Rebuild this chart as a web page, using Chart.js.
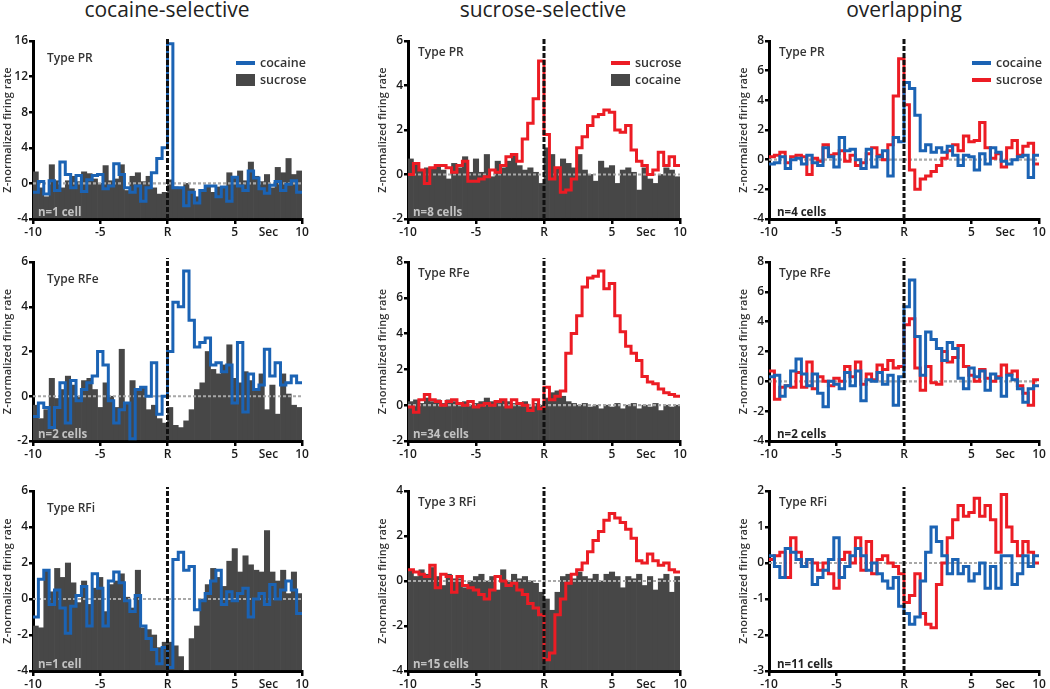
<!DOCTYPE html>
<html>
<head>
<meta charset="utf-8">
<script src="https://cdn.jsdelivr.net/npm/chart.js@4/dist/chart.umd.min.js"></script>
<style>
body{margin:0;background:#fff;width:1050px;height:689px;position:relative;overflow:hidden;font-family:"Open Sans",sans-serif}
.hd{position:absolute;top:-4px;font-size:21px;line-height:26px;color:#222;transform:translateX(-50%);white-space:nowrap}
canvas{position:absolute}
</style>
</head>
<body>
<div class="hd" style="left:167px">cocaine-selective</div>
<div class="hd" style="left:543px">sucrose-selective</div>
<div class="hd" style="left:904px">overlapping</div>

<script>
// 0.4 s bins from -10 to 10 s around the response (R)
const binStart = -10, binWidth = 0.4;
const xTicks = [-10, -5, 0, 5, 7.5, 10];
const xTickLabels = ['-10', '-5', 'R', '5', 'Sec', '10'];

// row 1 : Type PR
const cocPR_cocaine = [-1.0,0.2,-1.2,0.3,-0.8,2.4,1.0,-0.5,0.9,-0.9,0.4,0.9,1.0,-0.6,-0.3,2.2,1.0,-0.5,-1.0,-0.3,-2.0,-0.5,1.2,2.8,4.0,
  15.7,-0.5,-0.5,-2.5,-1.0,-2.2,-0.8,-0.3,-0.3,-1.5,-0.4,-2.0,0.7,-0.3,-0.8,1.4,0.6,-0.6,-1.1,-0.2,0.2,-0.8,-0.1,0.3,-1.0];
const cocPR_sucrose = [1.3,-0.5,-1.5,2.1,0.3,-0.5,0.3,0.8,0.2,1.3,1.1,0.5,0.0,2.0,0.3,0.5,2.1,-0.8,0.8,1.2,0.2,0.8,-0.5,-1.2,-1.0,
  0.4,-0.4,-0.5,0.0,-0.6,-1.5,-0.8,-0.3,-1.0,-0.4,-0.5,1.2,0.6,1.4,0.3,2.4,0.8,0.2,1.0,-0.5,1.8,1.2,2.8,1.0,1.4];
const sucPR_sucrose = [0.0,0.5,0.2,-0.4,0.3,0.4,0.4,0.3,0.1,0.4,0.6,-0.3,-0.3,-0.2,-0.1,0.2,0.1,0.4,0.8,0.9,0.6,1.6,2.3,3.4,5.1,
  1.8,-0.2,0.3,-0.8,-0.7,-0.2,1.2,1.7,2.2,2.6,2.7,2.9,2.8,2.0,1.9,2.2,1.1,0.6,0.4,0.0,0.2,1.0,0.4,0.8,0.4];
const sucPR_cocaine = [0.7,0.5,0.2,0.3,0.3,0.4,0.2,-0.2,0.5,0.3,0.8,0.1,0.7,0.1,0.9,-0.1,0.6,0.3,0.6,0.9,0.4,0.2,0.3,0.1,-0.4,
  1.2,0.9,0.3,0.7,0.5,0.3,0.9,0.2,0.0,-0.3,0.6,0.3,0.4,-0.4,0.2,0.3,0.1,-0.7,0.3,-0.2,-0.4,0.0,0.3,0.2,-0.1];
const ovPR_cocaine = [-0.3,-0.2,0.2,-0.6,0.0,0.1,-0.3,0.3,-0.2,-0.4,0.8,0.2,-0.5,1.5,0.6,0.7,0.0,-0.6,0.7,-0.5,0.2,0.6,-1.1,1.5,1.2,
  5.2,4.8,3.0,0.6,1.0,0.5,0.8,0.5,0.9,0.3,-0.4,0.3,0.2,-0.7,0.4,-0.3,0.8,0.5,-0.1,-0.3,0.0,0.2,0.3,-1.2,0.3];
const ovPR_sucrose = [0.2,0.3,0.5,-0.2,0.2,0.3,0.2,-1.0,0.1,-0.1,1.0,0.3,0.4,0.6,-0.1,0.3,-0.4,-0.2,0.4,0.8,0.3,0.0,1.0,4.3,6.8,
  3.7,-0.7,-2.0,-1.3,-1.1,-0.8,-0.4,0.1,0.6,1.0,0.6,1.6,1.2,1.3,2.5,0.8,0.1,0.4,-0.5,0.8,1.3,0.3,0.9,1.1,-0.3];

// row 2 : Type RFe
const cocRFe_cocaine = [-0.9,-0.3,-0.5,-1.4,-0.5,0.6,-1.2,0.7,-0.2,0.3,0.6,0.9,2.0,1.4,-0.2,-1.2,-0.6,-0.3,-1.9,0.3,0.4,0.0,1.5,-0.8,0.0,
  2.0,4.2,4.0,5.6,3.4,2.2,2.4,2.6,1.4,1.5,1.1,1.4,-0.3,2.4,-0.7,1.0,0.3,0.5,2.1,0.9,1.5,0.5,0.6,0.9,0.6];
const cocRFe_sucrose = [-0.4,-1.0,-0.6,0.8,-0.1,0.3,0.9,0.5,0.0,0.7,0.8,0.3,-0.5,0.6,0.0,-0.5,2.1,-0.3,0.7,0.3,0.4,-0.6,-0.4,-1.0,-1.2,
  -0.5,-1.3,-1.4,-1.1,-0.6,0.3,0.6,2.0,1.2,1.0,1.4,2.3,0.8,0.6,1.1,0.7,0.3,1.0,-0.6,0.5,-0.8,1.0,0.1,-0.4,-0.5];
const sucRFe_sucrose = [-0.1,-0.4,0.3,0.6,0.3,0.2,0.0,0.2,0.3,0.1,0.0,0.2,-0.1,0.0,0.1,0.0,0.2,0.3,-0.1,0.3,0.1,0.0,-0.3,0.3,-0.2,
  1.0,0.3,0.5,0.8,2.9,4.0,5.0,6.6,7.1,7.2,7.5,6.5,6.8,5.0,4.1,3.3,2.9,2.5,1.6,1.3,1.2,0.9,0.7,0.6,0.5];
const sucRFe_cocaine = [0.2,0.3,0.1,0.4,0.2,0.3,0.1,0.3,0.2,0.1,0.2,0.0,0.1,0.2,0.4,0.2,0.1,0.3,0.2,0.1,0.0,0.2,-0.1,0.1,0.0,
  0.4,0.7,0.8,0.5,0.2,0.1,0.0,0.1,-0.1,0.0,-0.2,0.0,-0.1,0.1,-0.2,0.0,0.1,-0.2,0.0,-0.1,0.1,-0.3,0.0,-0.1,0.0];
const ovRFe_cocaine = [0.3,0.4,-1.0,-0.3,0.7,1.5,0.5,-0.3,0.5,-0.8,-1.7,0.0,-0.2,-0.5,0.6,-0.3,0.7,-1.3,0.1,0.0,0.6,-0.2,0.4,-1.6,0.3,
  5.0,6.8,3.0,0.4,3.3,2.8,2.2,1.4,2.6,2.2,0.2,-0.5,0.9,0.3,0.7,-0.6,0.5,0.2,-1.0,0.4,0.1,-0.5,-1.4,-0.5,-0.3];
const ovRFe_sucrose = [0.7,-1.2,-0.4,-0.3,-0.4,0.6,-0.4,1.3,-0.5,0.3,0.0,-0.3,0.2,0.0,1.0,0.3,1.3,-0.2,0.5,0.1,1.1,0.8,1.4,0.9,1.0,
  3.8,4.2,0.9,-0.6,1.0,-0.1,-0.2,2.0,1.3,1.6,2.4,1.0,0.4,0.0,0.8,0.2,0.0,0.3,1.1,0.5,0.7,-0.3,-0.8,-1.6,0.1];

// row 3 : Type RFi
const cocRFi_cocaine = [-1.0,1.1,1.6,-0.3,0.5,-0.5,-1.9,-0.4,0.2,0.7,-1.5,1.4,0.6,-1.5,1.0,1.5,0.9,-0.1,-0.7,0.2,-1.5,-2.2,-2.8,-3.6,-2.7,
  -3.8,2.2,2.6,1.6,1.8,-0.6,-0.1,0.3,1.0,1.6,-0.3,0.4,-0.1,0.3,0.6,-1.0,0.0,0.3,-0.3,0.8,0.0,0.5,1.0,0.5,-0.8];
const cocRFi_sucrose = [-1.5,-1.6,1.6,0.4,1.7,1.2,2.0,0.9,-0.2,1.0,-0.3,0.6,1.2,-0.7,0.8,1.0,1.4,0.1,-0.5,1.6,-1.6,-1.7,-2.0,-2.7,-2.4,
  -2.4,-2.6,-3.2,-4.0,-2.2,-1.5,0.0,0.8,1.7,1.2,0.7,2.1,2.8,1.5,2.4,1.9,1.6,1.5,3.8,1.5,1.0,1.6,0.3,1.5,0.3];
const sucRFi_sucrose = [0.5,0.4,0.3,0.2,0.7,-0.3,0.3,0.2,-0.5,0.2,-0.2,-0.3,-0.4,-0.6,-0.8,-0.4,0.2,0.0,-0.2,-0.1,-0.4,-0.6,-1.0,-1.2,-1.5,
  -3.5,-3.2,-1.5,-0.8,-0.1,0.3,0.5,0.8,1.3,1.8,2.2,2.7,3.0,2.8,2.6,2.3,1.9,0.9,0.8,1.2,0.9,0.7,0.8,0.5,0.4];
const sucRFi_cocaine = [0.5,0.2,0.5,0.3,0.6,0.2,-0.2,0.3,0.1,0.1,-0.3,0.0,0.2,0.3,0.0,0.2,-0.4,0.5,0.0,0.3,0.1,0.2,0.0,-0.1,-0.5,
  -0.8,-1.3,-0.5,0.2,0.3,0.1,0.4,0.2,0.1,0.3,0.0,0.3,0.4,0.2,-0.3,0.2,0.1,0.3,-0.2,0.2,-0.4,0.1,0.3,-0.5,0.2];
const ovRFi_cocaine = [0.2,-0.1,-0.4,0.4,0.3,0.1,-0.1,0.1,-0.6,-0.4,-0.2,0.1,0.7,-0.4,-0.1,0.2,0.4,0.2,-0.2,0.0,-0.3,-0.5,-0.7,-0.4,-1.2,
  -1.4,-1.7,-1.5,-0.5,0.3,1.0,0.6,0.2,-0.3,0.1,-0.3,-0.1,-0.5,-0.3,0.0,-0.7,-0.1,-0.7,0.2,0.2,-0.6,-0.3,0.2,-0.1,0.2];
const ovRFi_sucrose = [0.1,0.2,0.3,-0.4,0.7,0.3,-0.1,0.1,0.0,-0.2,0.0,-0.3,-0.7,0.1,0.3,0.0,0.7,-0.2,0.6,-0.3,0.1,0.2,0.0,-0.1,-0.3,
  -1.1,-0.9,-0.3,-1.4,-1.7,-1.8,-0.6,0.0,0.7,1.2,1.6,1.3,1.4,1.8,1.3,1.6,1.2,0.3,1.9,1.0,0.6,0.2,0.6,0.3,0.0];

const BLUE = '#1b63b4', RED = '#ec1c24', GRAY = '#474747';
const FONT = '"Open Sans", sans-serif';

// plot-area edges of each column / row (page pixels)
const COLS = [{L: 33, R: 302}, {L: 408, R: 680}, {L: 769, R: 1039}];
const ROWS = [{T: 41, B: 219}, {T: 262, B: 441}, {T: 491, B: 671}];
const AXW = 32, AXH = 28, PADT = 12, PADR = 10;

function edges(vals) {
  const pts = vals.map((v, i) => ({x: binStart + i * binWidth, y: v}));
  pts.push({x: binStart + vals.length * binWidth, y: vals[vals.length - 1]});
  return pts;
}
function centers(vals) {
  return vals.map((v, i) => ({x: binStart + (i + 0.5) * binWidth, y: v}));
}

function panel(col, row, p) {
  const c = COLS[col], r = ROWS[row];
  const cv = document.createElement('canvas');
  const w = c.R - c.L + AXW + PADR, h = r.B - r.T + PADT + AXH;
  cv.width = w; cv.height = h;
  cv.style.left = (c.L - AXW) + 'px';
  cv.style.top = (r.T - PADT) + 'px';
  cv.style.width = w + 'px'; cv.style.height = h + 'px';
  document.body.appendChild(cv);

  const ds = [];
  if (p.bars) {
    ds.push({type: 'bar', data: centers(p.bars), base: p.yMin, backgroundColor: GRAY,
      borderWidth: 0, barPercentage: 1, categoryPercentage: 1, order: 10});
  }
  ds.push({type: 'line', data: [{x: -10, y: 0}, {x: 10, y: 0}], borderColor: '#a8a8a8',
    borderWidth: 2.2, borderDash: [3, 2], pointRadius: 0, order: 5});
  p.lines.forEach((l, k) => {
    ds.push({type: 'line', data: edges(l.data), stepped: true, borderColor: l.color,
      borderWidth: 3, pointRadius: 0, fill: false, order: 3 - k});
  });

  const decor = {
    id: 'decor' + col + row,
    afterDatasetsDraw(chart) {
      const ctx = chart.ctx, a = chart.chartArea;
      const x0 = chart.scales.x.getPixelForValue(0);
      ctx.save();
      ctx.strokeStyle = '#111'; ctx.lineWidth = 3; ctx.setLineDash([5, 2]);
      ctx.beginPath(); ctx.moveTo(x0, a.bottom); ctx.lineTo(x0, a.top - 4); ctx.stroke();
      ctx.restore();
    },
    afterDraw(chart) {
      const ctx = chart.ctx, a = chart.chartArea;
      ctx.save();
      ctx.textBaseline = 'middle';
      ctx.fillStyle = '#333';
      ctx.font = '600 12px ' + FONT;
      const dx = col === 0 ? 14 : 10, dy = col === 0 ? 18 : 12;
      ctx.fillText(p.label, a.left + dx, a.top + dy);
      ctx.textBaseline = 'alphabetic';
      ctx.font = '700 11.5px ' + FONT;
      ctx.fillStyle = p.bars ? '#c2c2c2' : '#222';
      ctx.fillText(p.n, a.left + (col === 2 ? 8 : 5), a.bottom - 3);
      if (p.legend) {
        ctx.textBaseline = 'middle';
        ctx.font = '600 12.5px ' + FONT;
        p.legend.forEach((e, k) => {
          const lx = a.left + 203, ly = a.top + 22 + k * 17;
          ctx.fillStyle = e.color;
          if (e.kind === 'line') ctx.fillRect(lx, ly - 2, 19, 4);
          else ctx.fillRect(lx, ly - 6, 19, 12);
          ctx.fillStyle = '#333';
          ctx.fillText(e.text, lx + 24, ly);
        });
      }
      ctx.restore();
    }
  };

  new Chart(cv, {
    type: 'bar',
    data: {datasets: ds},
    options: {
      responsive: false, animation: false, devicePixelRatio: 1,
      layout: {padding: {top: PADT, right: PADR, left: 0, bottom: 0}},
      plugins: {legend: {display: false}, tooltip: {enabled: false}},
      scales: {
        x: {
          type: 'linear', min: -10, max: 10, offset: false,
          afterBuildTicks: s => { s.ticks = xTicks.map(v => ({value: v})); },
          afterFit: s => { s.height = AXH; },
          border: {display: true, color: '#000', width: 3},
          grid: {drawOnChartArea: false, drawTicks: true, tickLength: 5, offset: false, lineWidth: 2.5,
            color: cx => (cx.tick && cx.tick.value === 7.5) ? 'rgba(0,0,0,0)' : '#000'},
          ticks: {autoSkip: false, maxRotation: 0, padding: 1, color: '#1a1a1a',
            font: {family: FONT, size: 12, weight: '600'},
            callback: v => xTickLabels[xTicks.indexOf(v)]}
        },
        y: {
          min: p.yMin, max: p.yMax,
          afterFit: s => { s.width = AXW; },
          border: {display: true, color: '#000', width: 3},
          grid: {drawOnChartArea: false, drawTicks: true, tickLength: 4, lineWidth: 2.5, color: '#000'},
          ticks: {stepSize: p.yStep, autoSkip: false, padding: 1, color: '#1a1a1a',
            font: {family: FONT, size: 12, weight: '600'}},
          title: {display: true, text: 'Z-normalized firing rate', color: '#333', padding: 0,
            font: {family: FONT, size: 11, weight: '600'}}
        }
      }
    },
    plugins: [decor]
  });
}

panel(0, 0, {yMin: -4, yMax: 16, yStep: 4, label: 'Type PR', n: 'n=1 cell',
  bars: cocPR_sucrose, lines: [{data: cocPR_cocaine, color: BLUE}],
  legend: [{kind: 'line', color: BLUE, text: 'cocaine'}, {kind: 'box', color: GRAY, text: 'sucrose'}]});
panel(1, 0, {yMin: -2, yMax: 6, yStep: 2, label: 'Type PR', n: 'n=8 cells',
  bars: sucPR_cocaine, lines: [{data: sucPR_sucrose, color: RED}],
  legend: [{kind: 'line', color: RED, text: 'sucrose'}, {kind: 'box', color: GRAY, text: 'cocaine'}]});
panel(2, 0, {yMin: -4, yMax: 8, yStep: 2, label: 'Type PR', n: 'n=4 cells',
  lines: [{data: ovPR_sucrose, color: RED}, {data: ovPR_cocaine, color: BLUE}],
  legend: [{kind: 'line', color: BLUE, text: 'cocaine'}, {kind: 'line', color: RED, text: 'sucrose'}]});

panel(0, 1, {yMin: -2, yMax: 6, yStep: 2, label: 'Type RFe', n: 'n=2 cells',
  bars: cocRFe_sucrose, lines: [{data: cocRFe_cocaine, color: BLUE}]});
panel(1, 1, {yMin: -2, yMax: 8, yStep: 2, label: 'Type RFe', n: 'n=34 cells',
  bars: sucRFe_cocaine, lines: [{data: sucRFe_sucrose, color: RED}]});
panel(2, 1, {yMin: -4, yMax: 8, yStep: 2, label: 'Type RFe', n: 'n=2 cells',
  lines: [{data: ovRFe_sucrose, color: RED}, {data: ovRFe_cocaine, color: BLUE}]});

panel(0, 2, {yMin: -4, yMax: 6, yStep: 2, label: 'Type RFi', n: 'n=1 cell',
  bars: cocRFi_sucrose, lines: [{data: cocRFi_cocaine, color: BLUE}]});
panel(1, 2, {yMin: -4, yMax: 4, yStep: 2, label: 'Type 3 RFi', n: 'n=15 cells',
  bars: sucRFi_cocaine, lines: [{data: sucRFi_sucrose, color: RED}]});
panel(2, 2, {yMin: -3, yMax: 2, yStep: 1, label: 'Type RFi', n: 'n=11 cells',
  lines: [{data: ovRFi_sucrose, color: RED}, {data: ovRFi_cocaine, color: BLUE}]});
</script>
</body>
</html>
